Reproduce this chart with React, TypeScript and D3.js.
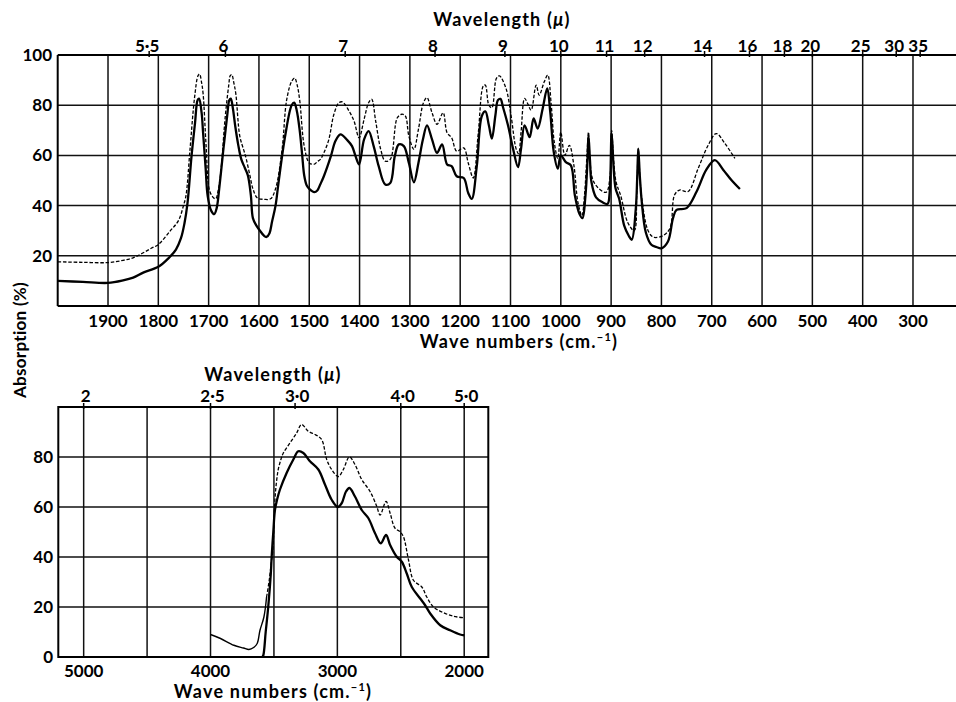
import React from "react";
import * as d3 from "d3";

// ---------- DATA ----------
// Top chart: wave numbers 2000–650 cm-1, absorption %
const topSolid: [number, number][] = [
  [2000,10],[1950,9.6],[1900,9.2],[1870,10.2],[1850,11.3],[1830,13.3],[1800,15.6],[1780,19],[1765,22.5],[1755,27],[1748,33],[1742,41],[1734,59.7],[1727,73],[1722,82],[1719,82.6],[1714,77],[1711,69],[1706,55],[1702,44],[1695,38],[1689,36.6],[1684,39],[1679,46.7],[1670,63.7],[1663,76],[1659,82],[1656,82.6],[1652,79],[1647,71.5],[1641,64],[1635,58.4],[1628,55],[1622,52],[1616,44],[1612,35],[1605,32],[1599,30.3],[1590,28],[1585,27.5],[1579,29],[1574,33.6],[1567,40],[1561,49.3],[1548,67.6],[1535,80],[1530,81],[1525,78],[1519,70],[1514,60],[1510,52],[1505,48],[1500,46.7],[1490,45.4],[1484,46],[1478,48.5],[1471,51.7],[1457,59.7],[1448,65.7],[1438,68.4],[1424,66],[1415,63.7],[1408,59.7],[1401,56.4],[1391,66.4],[1382,69.7],[1372,63.7],[1362,55.7],[1349,48.4],[1339,49],[1330,59.7],[1322,64.4],[1312,63.7],[1302,57],[1292,49.3],[1283,57],[1274,66.4],[1266,72],[1256,66.4],[1246,61],[1236,64.4],[1226,56.4],[1217,55.7],[1207,51.7],[1193,51],[1184,45],[1177,42.7],[1167,55.7],[1157,75.7],[1150,77.5],[1143,72],[1137,66.7],[1130,76],[1125,82],[1120,82.5],[1115,79.3],[1105,72],[1095,62.7],[1085,55.3],[1079,62.7],[1072,72],[1062,67.3],[1054,74.7],[1046,70.7],[1036,78.7],[1027,86.7],[1021,77.3],[1014,61.3],[1006,54.7],[1000,60],[990,57.3],[980,56],[972,44],[963,36.7],[957,35],[951,44],[947,58],[945,68],[942,58],[939,49.3],[930,43.3],[917,41.3],[907,40.7],[903,45],[899,69],[895,55],[891,46.7],[884,42.7],[874,32],[865,28],[859,26.4],[851,38.7],[848,52],[846,62.7],[843,52],[839,41.3],[831,29.3],[820,24.4],[810,23.5],[800,23],[787,25.7],[777,35],[770,38.3],[750,39],[730,45.6],[711,54.2],[694,58.1],[677,54.2],[661,50.2],[644,46.6]
];
const topDashed: [number, number][] = [
  [2000,17.6],[1950,17.4],[1900,17.3],[1870,18.2],[1850,19.2],[1830,21.2],[1814,23],[1800,24.5],[1776,30],[1760,34],[1750,40],[1745,44],[1737,62.4],[1728,83],[1721,91.8],[1718,92.4],[1714,89],[1711,84.6],[1705,63.7],[1699,46.7],[1692,43.5],[1686,42.7],[1681,46],[1676,53],[1667,75.4],[1660,88],[1657,91.8],[1654,92.2],[1650,89],[1646,84.6],[1638,67.6],[1630,62],[1625,58.4],[1618,52],[1612,46.7],[1603,43],[1590,42.5],[1577,42.7],[1567,46.7],[1554,62.4],[1545,82],[1535,89.5],[1529,90.8],[1524,88],[1519,82],[1510,63.7],[1500,57],[1490,56.5],[1484,57.5],[1478,58.4],[1471,61],[1461,66.4],[1451,76.4],[1441,81],[1434,81.3],[1421,77.7],[1411,73.7],[1401,67],[1391,74.4],[1382,81],[1376,82.4],[1368,73.7],[1358,62.4],[1349,57.7],[1339,58.4],[1325,75],[1316,76.4],[1309,75.7],[1302,67.7],[1292,62.4],[1283,70.4],[1273,81],[1266,83],[1256,77],[1246,72.4],[1234,77],[1226,69],[1217,67],[1207,61.7],[1193,63],[1184,57],[1174,51],[1164,69],[1154,87.7],[1150,88],[1143,80],[1137,79],[1128,90.7],[1122,91.7],[1109,86.7],[1099,76],[1089,62.7],[1084,60.7],[1079,69.3],[1072,82.7],[1066,80.7],[1059,78],[1049,88],[1043,84],[1033,89.3],[1026,92],[1019,80],[1013,65.3],[1006,58.7],[1000,69.3],[992,60],[983,64],[974,56],[966,41.3],[958,36],[953,44],[948,60],[945,69.3],[942,58],[937,50.7],[927,47.3],[910,45.3],[902,52],[899,70],[895,58],[890,49.3],[881,44],[867,33.3],[854,30],[849,45],[846,62.7],[843,52],[839,42.7],[828,30.7],[820,28],[814,27.3],[797,28],[783,31],[774,44.2],[764,46.2],[747,45.6],[727,54.8],[707,64.1],[691,68.7],[674,64.8],[654,58.8]
];

// Bottom chart: wave numbers 4000–2000 cm-1
const bottomSolid: [number, number][] = [
  [3592,0],[3584,0.6],[3565,10],[3545,20],[3525,33],[3518,40],[3505,50],[3492,58.8],[3475,63],[3453,66.9],[3400,73.6],[3347,79],[3308,82.3],[3268,81.6],[3216,78.3],[3150,75],[3097,68.9],[3045,62.9],[2997,60],[2966,61.5],[2932,66.2],[2905,67.6],[2861,64.2],[2808,58.8],[2755,55.5],[2703,49.5],[2658,45.5],[2616,48.8],[2584,44.8],[2532,40.1],[2492,38.1],[2453,33.4],[2413,28],[2347,23.4],[2308,20.7],[2268,17.4],[2189,12.7],[2111,10.7],[2032,9],[2000,8.7]
];
const bottomDashedStart: [number, number][] = [
  [4000,9],[3921,7.4],[3816,4.7],[3740,3.6],[3697,3],[3660,3.8],[3632,5.4],[3610,10.7],[3579,16],[3558,24]
];
const bottomDashed: [number, number][] = [
  [3558,24],[3539,30],[3520,38],[3510,42],[3500,52],[3492,63],[3480,70],[3466,75],[3445,79],[3426,81.6],[3374,85.6],[3321,89.6],[3282,93],[3229,90.3],[3176,89],[3124,87],[3084,79],[3045,75],[2992,72.2],[2953,75],[2905,80],[2861,77],[2808,71],[2742,66.2],[2689,60.2],[2663,56.8],[2616,62.2],[2584,57.5],[2545,51.5],[2505,50.1],[2479,48.1],[2439,38.8],[2400,30.7],[2334,28],[2295,24],[2242,20],[2176,18],[2084,16.3],[2005,15.7]
];

const topWaveTicks = [1900,1800,1700,1600,1500,1400,1300,1200,1100,1000,900,800,700,600,500,400,300];
const topWavelengthLabels = ["5·5","6","7","8","9","10","11","12","14","16","18","20","25","30","35"];
const topWavelengthValues = [5.5,6,7,8,9,10,11,12,14,16,18,20,25,30,35];
const yTicksTop = [100,80,60,40,20];
const yTicksBottom = [80,60,40,20,0];
const bottomGrid = [5000,4500,4000,3500,3000,2500,2000];
const bottomWaveLabels = [5000,4000,3000,2000];
const bottomWavelengthLabels = ["2","2·5","3·0","4·0","5·0"];
const bottomWavelengthValues = [2,2.5,3.0,4.0,5.0];

const FONT = "Lato, 'Open Sans', 'DejaVu Sans', sans-serif";

export default function App() {
  // Top chart scales
  const xT = d3.scaleLinear().domain([2000, 200]).range([57.7, 963.3]);
  const yT = d3.scaleLinear().domain([0, 100]).range([306, 55]);
  // Bottom chart scales
  const xB = d3.scaleLinear().domain([5200, 1810]).range([58.3, 488.3]);
  const yB = d3.scaleLinear().domain([0, 100]).range([657, 407]);

  const lineT = d3.line<[number, number]>().x(d => xT(d[0])).y(d => yT(d[1])).curve(d3.curveCatmullRom.alpha(0.5));
  const lineB = d3.line<[number, number]>().x(d => xB(d[0])).y(d => yB(d[1])).curve(d3.curveCatmullRom.alpha(0.5));

  const grid = { stroke: "#111", strokeWidth: 1.5 };
  const border = { stroke: "#000", strokeWidth: 2 };
  const txt = { fontFamily: FONT, fontWeight: 700, fontSize: 17, fill: "#000" } as const;
  const title = { ...txt, fontSize: 18, letterSpacing: 1.2 } as const;
  const ytitle = { ...txt, fontSize: 17, letterSpacing: 0.3 } as const;

  const xT0 = xT(2000), xTR = 956;
  const xB0 = xB(5200), xBR = xB(1810);

  return (
    <svg width={956} height={702} style={{ position: "absolute", left: 0, top: 0, background: "#fff" }}>
      <rect x={0} y={0} width={956} height={702} fill="#fff" />
      {/* ===== TOP CHART ===== */}
      <g>
        {topWaveTicks.map(w => (
          <line key={"tv" + w} x1={xT(w)} x2={xT(w)} y1={yT(100)} y2={yT(0)} {...grid} />
        ))}
        {[20, 40, 60, 80].map(v => (
          <line key={"th" + v} x1={xT0} x2={xTR} y1={yT(v)} y2={yT(v)} {...grid} />
        ))}
        <line x1={xT0} x2={xTR} y1={yT(100)} y2={yT(100)} {...border} />
        <line x1={xT0} x2={xTR} y1={yT(0)} y2={yT(0)} {...border} />
        <line x1={xT0} x2={xT0} y1={yT(100)} y2={yT(0)} {...border} />
        {topWavelengthValues.map((l, i) => (
          <g key={"tw" + i}>
            <line x1={xT(10000 / l)} x2={xT(10000 / l)} y1={yT(100) - 4} y2={yT(100) + 2} stroke="#000" strokeWidth={1.5} />
            <text x={xT(10000 / l) - 2} y={52} textAnchor="middle" {...txt}>{topWavelengthLabels[i]}</text>
          </g>
        ))}
        <text x={502} y={26} textAnchor="middle" {...title}>
          Wavelength (<tspan fontStyle="italic">μ</tspan>)
        </text>
        {yTicksTop.map(v => (
          <text key={"ty" + v} x={52} y={yT(v) + 6} textAnchor="end" {...txt}>{v}</text>
        ))}
        {topWaveTicks.map(w => (
          <text key={"tx" + w} x={xT(w)} y={327} textAnchor="middle" {...txt}>{w}</text>
        ))}
        <text x={519} y={348} textAnchor="middle" {...title}>
          Wave numbers (cm.<tspan dy={-7} fontSize={11}>−1</tspan><tspan dy={7}>)</tspan>
        </text>
        <path d={lineT(topDashed) || ""} fill="none" stroke="#000" strokeWidth={1.3} strokeDasharray="3.5 1.8" />
        <path d={lineT(topSolid) || ""} fill="none" stroke="#000" strokeWidth={2.3} strokeLinejoin="round" />
      </g>

      {/* Y axis title */}
      <text transform="translate(26,340) rotate(-90)" textAnchor="middle" {...ytitle}>Absorption (%)</text>

      {/* ===== BOTTOM CHART ===== */}
      <g>
        {bottomGrid.map(w => (
          <line key={"bv" + w} x1={xB(w)} x2={xB(w)} y1={yB(100)} y2={yB(0)} {...grid} />
        ))}
        {[20, 40, 60, 80].map(v => (
          <line key={"bh" + v} x1={xB0} x2={xBR} y1={yB(v)} y2={yB(v)} {...grid} />
        ))}
        <rect x={xB0} y={yB(100)} width={xBR - xB0} height={yB(0) - yB(100)} fill="none" {...border} />
        {bottomWavelengthValues.map((l, i) => (
          <g key={"bw" + i}>
            <line x1={xB(10000 / l)} x2={xB(10000 / l)} y1={yB(100) - 4} y2={yB(100) + 2} stroke="#000" strokeWidth={1.5} />
            <text x={xB(10000 / l) + 2} y={402} textAnchor="middle" {...txt}>{bottomWavelengthLabels[i]}</text>
          </g>
        ))}
        <text x={273} y={381} textAnchor="middle" {...title}>
          Wavelength (<tspan fontStyle="italic">μ</tspan>)
        </text>
        {yTicksBottom.map(v => (
          <text key={"by" + v} x={53} y={yB(v) + 6} textAnchor="end" {...txt}>{v}</text>
        ))}
        {bottomWaveLabels.map(w => (
          <text key={"bx" + w} x={xB(w)} y={677} textAnchor="middle" {...txt}>{w}</text>
        ))}
        <text x={273} y={698} textAnchor="middle" {...title}>
          Wave numbers (cm.<tspan dy={-7} fontSize={11}>−1</tspan><tspan dy={7}>)</tspan>
        </text>
        <path d={lineB(bottomDashedStart) || ""} fill="none" stroke="#000" strokeWidth={1.4} />
        <path d={lineB(bottomDashed) || ""} fill="none" stroke="#000" strokeWidth={1.3} strokeDasharray="3.5 1.8" />
        <path d={lineB(bottomSolid) || ""} fill="none" stroke="#000" strokeWidth={2.3} strokeLinejoin="round" />
      </g>
    </svg>
  );
}
